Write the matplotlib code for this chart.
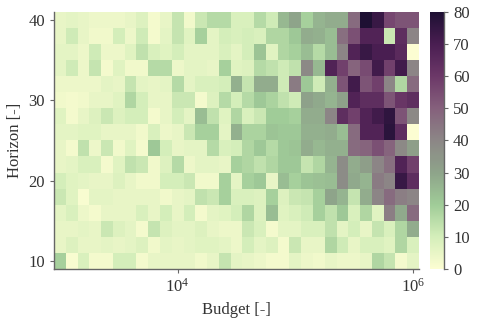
import numpy as np
import matplotlib
matplotlib.use("Agg")
import matplotlib.pyplot as plt
from matplotlib.colors import LinearSegmentedColormap
from matplotlib.ticker import NullLocator, FixedLocator

plt.rcParams['font.family'] = ['Liberation Serif', 'DejaVu Serif']
plt.rcParams['mathtext.fontset'] = 'stix'

# Budget categories (log-spaced, 0.1 decade) and horizon categories
budget = [1000, 1259, 1585, 1995, 2512, 3162, 3981, 5012, 6310, 7943,
          10000, 12589, 15849, 19953, 25119, 31623, 39811, 50119, 63096, 79433,
          100000, 125893, 158489, 199526, 251189, 316228, 398107, 501187, 630957, 794328,
          1000000]
horizon = [10, 12, 14, 16, 18, 20, 22, 24, 26, 28, 30, 32, 34, 36, 38, 40]

# values, rows listed from horizon 40 (top) down to horizon 10 (bottom)
h40 = [5, 6, 5, 4, 4, 4, 5, 8, 2, 5, 13, 3, 12, 16, 16, 9, 9, 16, 11, 25, 30, 19, 26, 28, 28, 47, 80, 74, 56, 53, 53]
h38 = [5, 11, 5, 3, 3, 10, 4, 11, 2, 6, 13, 7, 19, 6, 10, 9, 10, 9, 17, 17, 21, 28, 27, 24, 46, 54, 68, 68, 12, 64, 40]
h36 = [6, 6, 4, 11, 4, 4, 7, 14, 9, 7, 10, 6, 6, 6, 9, 6, 10, 22, 7, 17, 19, 24, 16, 24, 40, 68, 74, 70, 70, 65, 0]
h34 = [6, 11, 4, 13, 2, 7, 3, 3, 16, 16, 4, 6, 6, 5, 19, 7, 8, 16, 14, 11, 14, 39, 25, 68, 58, 49, 55, 72, 58, 72, 40]
h32 = [4, 4, 4, 4, 6, 5, 13, 6, 5, 6, 16, 6, 9, 9, 10, 27, 13, 28, 28, 11, 43, 21, 11, 27, 53, 72, 53, 58, 40, 17, 47]
h30 = [3, 2, 3, 5, 5, 7, 17, 10, 5, 5, 12, 12, 2, 8, 16, 10, 16, 21, 18, 14, 11, 31, 29, 26, 31, 68, 64, 64, 53, 61, 64]
h28 = [7, 2, 5, 8, 12, 8, 10, 10, 2, 5, 10, 6, 24, 14, 7, 17, 9, 12, 20, 20, 19, 28, 28, 40, 64, 58, 68, 72, 76, 53, 39]
h26 = [6, 6, 7, 7, 5, 5, 5, 3, 9, 4, 5, 12, 19, 19, 6, 27, 18, 18, 22, 21, 21, 27, 27, 28, 24, 47, 68, 68, 77, 64, 0]
h24 = [5, 2, 14, 4, 12, 3, 7, 2, 21, 10, 5, 6, 6, 16, 9, 10, 17, 21, 16, 21, 22, 28, 25, 27, 27, 47, 49, 54, 49, 39, 32]
h22 = [5, 6, 9, 9, 2, 7, 14, 12, 3, 8, 16, 4, 6, 6, 5, 19, 17, 14, 17, 21, 21, 13, 17, 26, 38, 28, 32, 40, 46, 68, 58]
h20 = [10, 7, 6, 5, 5, 8, 5, 3, 3, 10, 10, 12, 3, 3, 19, 6, 19, 21, 5, 24, 19, 22, 23, 24, 38, 29, 26, 43, 40, 74, 64]
h18 = [12, 7, 1, 6, 6, 5, 5, 5, 5, 3, 5, 6, 14, 12, 19, 9, 9, 8, 19, 8, 12, 13, 19, 30, 26, 13, 28, 40, 47, 42, 40]
h16 = [6, 9, 4, 2, 5, 5, 5, 9, 5, 10, 5, 10, 2, 6, 7, 10, 17, 8, 24, 7, 9, 11, 19, 14, 21, 9, 17, 7, 42, 29, 47]
h14 = [5, 5, 6, 5, 12, 8, 6, 2, 13, 8, 6, 6, 8, 5, 4, 4, 12, 9, 2, 6, 6, 9, 9, 14, 6, 10, 5, 13, 9, 17, 28]
h12 = [5, 8, 5, 5, 6, 5, 6, 8, 3, 6, 5, 6, 7, 7, 6, 4, 10, 6, 8, 2, 12, 5, 5, 17, 11, 5, 9, 9, 7, 17, 9]
h10 = [19, 1, 9, 2, 2, 10, 10, 2, 5, 5, 5, 5, 3, 5, 13, 6, 5, 4, 2, 2, 6, 4, 3, 5, 4, 4, 5, 17, 13, 2, 6]

cbar_ticks = [0, 10, 20, 30, 40, 50, 60, 70, 80]

rows_top_down = [h40, h38, h36, h34, h32, h30, h28, h26, h24, h22, h20, h18, h16, h14, h12, h10]
Z = np.array(rows_top_down[::-1], dtype=float)

# cell edges (geometric midpoints in x, arithmetic in y)
lb = np.log10(np.array(budget, dtype=float))
db = np.diff(lb)
xedges = 10 ** np.concatenate([[lb[0] - db[0] / 2], (lb[:-1] + lb[1:]) / 2, [lb[-1] + db[-1] / 2]])
hy = np.array(horizon, dtype=float)
dy = np.diff(hy)
yedges = np.concatenate([[hy[0] - dy[0] / 2], (hy[:-1] + hy[1:]) / 2, [hy[-1] + dy[-1] / 2]])

cmap = LinearSegmentedColormap.from_list("custom", [
    (0.000, "#fcfdd2"),
    (0.125, "#d4eeba"),
    (0.250, "#a0cc98"),
    (0.375, "#8ea48a"),
    (0.500, "#8c8686"),
    (0.625, "#85607c"),
    (0.750, "#6c3868"),
    (0.875, "#4a1e52"),
    (1.000, "#1e1033"),
])

txt = "#333333"
spc = "#666666"

fig = plt.figure(figsize=(4.8, 3.2), dpi=100)
ax = fig.add_axes([0.1125, 0.159, 0.7604, 0.8045])
cax = fig.add_axes([0.896, 0.159, 0.029, 0.8045])

mesh = ax.pcolormesh(xedges, yedges, Z, cmap=cmap, vmin=0, vmax=80, shading='flat')
ax.set_xscale('log')
ax.set_xlim(xedges[0], xedges[-1])
ax.set_ylim(yedges[0], yedges[-1])
ax.xaxis.set_major_locator(FixedLocator([1e4, 1e6]))
ax.xaxis.set_minor_locator(NullLocator())
ax.set_yticks([10, 20, 30, 40])
for s in ['top', 'right']:
    ax.spines[s].set_visible(False)
for s in ['left', 'bottom']:
    ax.spines[s].set_color(spc)
    ax.spines[s].set_linewidth(1.0)
ax.tick_params(axis='both', labelsize=12, colors=spc, labelcolor=txt, length=3, width=0.8)
ax.set_xlabel("Budget [-]", fontsize=12, color=txt)
ax.set_ylabel("Horizon [-]", fontsize=12, color=txt)

cb = fig.colorbar(mesh, cax=cax, ticks=cbar_ticks)
cb.outline.set_visible(False)
cax.plot([1, 1], [0, 1], transform=cax.transAxes, color=spc, lw=1.0, clip_on=False)
cax.tick_params(labelsize=12, colors=spc, labelcolor=txt, length=3, width=0.8)
cax.yaxis.set_minor_locator(NullLocator())

fig.savefig("out.png", dpi=100)
